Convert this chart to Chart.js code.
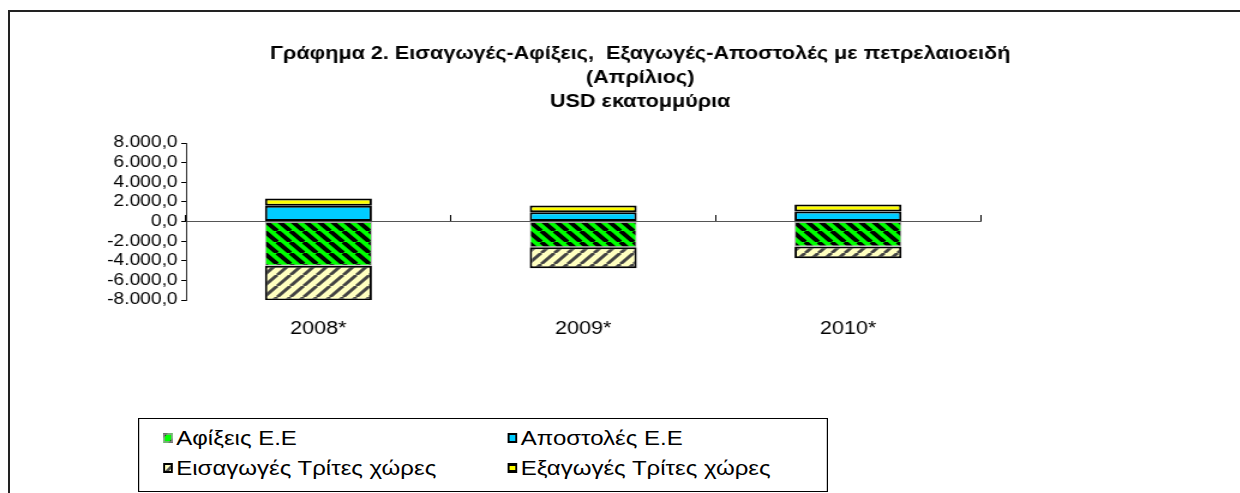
<!DOCTYPE html>
<html>
<head>
<meta charset="utf-8">
<script src="https://cdn.jsdelivr.net/npm/chart.js@4/dist/chart.umd.min.js"></script>
<style>
html, body { margin: 0; padding: 0; background: #fff; overflow: hidden; width: 1240px; height: 493px; }
#frame { position: absolute; left: 8px; top: 10px; width: 1300px; height: 600px; border-top: 2px solid #222; border-left: 2px solid #222; }
/* the reference text is drawn slightly wide, so the chart is stretched 1.2x horizontally */
#wrap { position: absolute; left: 0; top: 0; transform: scaleX(1.2); transform-origin: 0 0; }
#legend { position: absolute; left: 138px; top: 418px; width: 573px; height: 72px; border: 1px solid #000; background: #fff;
  transform: scaleX(1.2); transform-origin: 0 0;
  font-family: Arial, "Liberation Sans", sans-serif; font-size: 20px; color: #000; }
.item { position: absolute; display: flex; align-items: center; white-space: nowrap; height: 20px; }
.item canvas { width: 8.4px; height: 10px; margin-right: 2.5px; }
</style>
</head>
<body>
<div id="frame"></div>
<div id="wrap"><canvas id="myChart" width="1067" height="493"></canvas></div>
<div id="legend"></div>
<script>
// data (USD millions)
const years = ['2008*', '2009*', '2010*'];
const arrivalsEU = [-4500, -2620, -2550];
const dispatchesEU = [1600, 950, 1020];
const importsThird = [-3550, -2140, -1190];
const exportsThird = [750, 680, 710];

const titleLines = [
    'Γράφημα 2. Εισαγωγές-Αφίξεις,  Εξαγωγές-Αποστολές με πετρελαιοειδή',
    '(Απρίλιος)',
    'USD εκατομμύρια'
];

// diagonal stripe tile, dir 1 = "\" , -1 = "/"
const stripeTile = (bg, fg, period, width, dir) => {
    const c = document.createElement('canvas');
    c.width = c.height = period;
    const g = c.getContext('2d');
    g.fillStyle = bg;
    g.fillRect(0, 0, period, period);
    g.strokeStyle = fg;
    g.lineWidth = width;
    g.beginPath();
    for (const o of [-period, 0, period]) {
        if (dir > 0) { g.moveTo(o, 0); g.lineTo(o + period, period); }
        else { g.moveTo(o, period); g.lineTo(o + period, 0); }
    }
    g.stroke();
    return c;
};

const greenTile = stripeTile('#00ff00', '#000', 11, 4, 1);
const beigeTile = stripeTile('#ffffc0', '#444', 11, 3, -1);

const fmt = v => {
    const a = Math.abs(v);
    const s = Math.floor(a).toString().replace(/\B(?=(\d{3})+(?!\d))/g, '.');
    return (v < 0 ? '-' : '') + s + ',0';
};

const ctx = document.getElementById('myChart').getContext('2d');
Chart.defaults.color = '#000';
Chart.defaults.font.family = 'Arial, "Liberation Sans", sans-serif';

const myChart = new Chart(ctx, {
    type: 'bar',
    data: {
        labels: years,
        datasets: [
            { label: 'Αφίξεις Ε.Ε', data: arrivalsEU, backgroundColor: ctx.createPattern(greenTile, 'repeat'),
              borderColor: '#aaa', borderWidth: 1, swatch: greenTile },
            { label: 'Αποστολές  Ε.Ε', data: dispatchesEU, backgroundColor: '#00ccff',
              borderColor: '#000', borderWidth: 2 },
            { label: 'Εισαγωγές Τρίτες χώρες', data: importsThird, backgroundColor: ctx.createPattern(beigeTile, 'repeat'),
              borderColor: '#000', borderWidth: 2, swatch: beigeTile },
            { label: 'Εξαγωγές Τρίτες χώρες', data: exportsThird, backgroundColor: '#ffff00',
              borderColor: '#000', borderWidth: 2 }
        ]
    },
    options: {
        responsive: false,
        animation: false,
        layout: { padding: { left: 5, top: 42, right: 5, bottom: 153 } },
        datasets: { bar: { categoryPercentage: 1, barPercentage: 0.404, borderSkipped: false } },
        plugins: {
            legend: { display: false },
            tooltip: { enabled: false },
            title: {
                display: true,
                text: titleLines,
                font: { size: 18, weight: 'bold', lineHeight: 24 / 18 },
                padding: { top: 0, bottom: 29 }
            }
        },
        scales: {
            x: {
                stacked: true,
                grid: { display: false, drawTicks: false },
                border: { display: false },
                ticks: { padding: 18, font: { size: 18 } },
                afterFit: s => { s.height = 40; }
            },
            x2: {
                type: 'category',
                labels: years,
                position: { y: 0 },
                offset: true,
                grid: { offset: true, drawOnChartArea: false, drawTicks: true, tickLength: -7, color: '#000' },
                border: { display: true, color: '#555', width: 1 },
                ticks: { display: false }
            },
            y: {
                stacked: true,
                min: -8000,
                max: 8000,
                ticks: { stepSize: 2000, autoSkip: false, callback: fmt, font: { size: 16 }, padding: 3 },
                grid: { drawOnChartArea: false, tickLength: 4, color: '#000' },
                border: { color: '#333' },
                afterFit: s => { s.width = 150; }
            },
            // empty right axis, only reserves room so the title stays centred on the frame
            y2: {
                type: 'linear',
                position: 'right',
                grid: { display: false },
                border: { display: false },
                ticks: { display: false },
                afterFit: s => { s.width = 245; }
            }
        }
    }
});

// two-column boxed legend built from the datasets
const legendPos = [[20, 9], [307, 9], [20, 39], [307, 39]];
const legend = document.getElementById('legend');
myChart.data.datasets.forEach((ds, i) => {
    const item = document.createElement('div');
    item.className = 'item';
    item.style.left = legendPos[i][0] + 'px';
    item.style.top = legendPos[i][1] + 'px';
    const sw = document.createElement('canvas');
    sw.width = 10; sw.height = 10;
    const g = sw.getContext('2d');
    if (ds.swatch) {
        // one wide stripe across the small key box
        g.fillStyle = ds.swatch === greenTile ? '#00ff00' : '#ffffc0';
        g.fillRect(0, 0, 10, 10);
        g.fillStyle = ds.swatch === greenTile ? '#000' : '#555';
        g.beginPath();
        if (ds.swatch === greenTile) { g.moveTo(0, 0); g.lineTo(5, 0); g.lineTo(0, 5); g.moveTo(10, 10); g.lineTo(5, 10); g.lineTo(10, 5); }
        else { g.moveTo(0, 10); g.lineTo(10, 0); g.lineTo(10, 4); g.lineTo(4, 10); }
        g.fill();
    } else {
        g.fillStyle = ds.backgroundColor;
        g.fillRect(0, 0, 10, 10);
    }
    if (i === 3) { g.fillStyle = '#000'; g.fillRect(0, 0, 10, 3); g.fillRect(0, 7, 10, 3); }
    g.strokeStyle = i === 0 ? '#999' : '#000';
    g.lineWidth = i === 0 ? 1.5 : 2;
    g.strokeRect(1, 1, 8, 8);
    const txt = document.createElement('span');
    txt.textContent = ds.label;
    item.appendChild(sw);
    item.appendChild(txt);
    legend.appendChild(item);
});
</script>
</body>
</html>
